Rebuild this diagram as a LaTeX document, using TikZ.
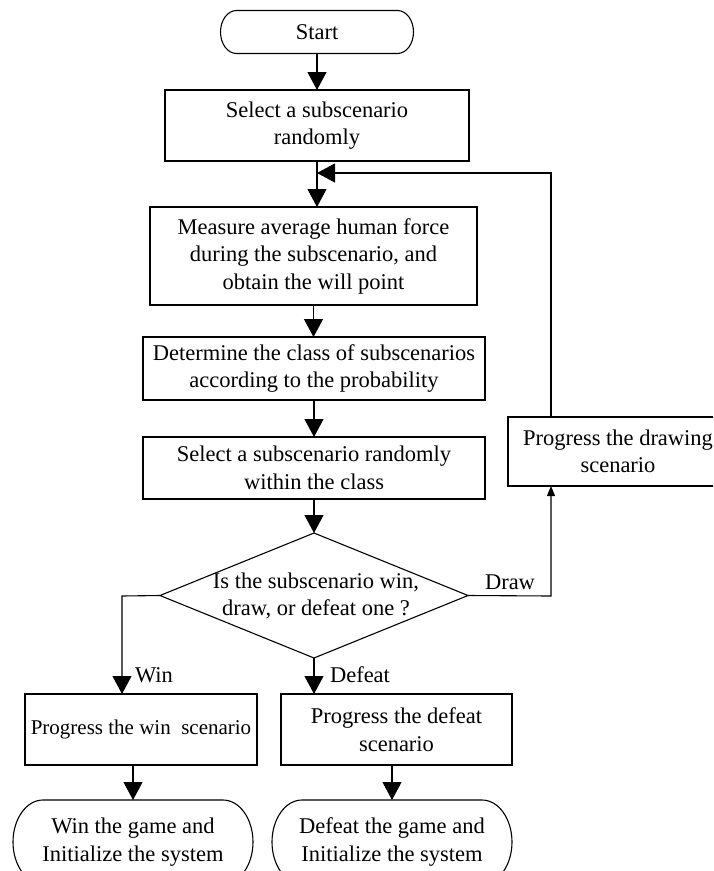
\documentclass[tikz,border=0pt]{standalone}
\usepackage{fontspec}
\setmainfont{Liberation Serif}
\usetikzlibrary{arrows.meta,shapes.geometric}
\newcommand\myterm[3]{\draw[line width=1.1pt] ([xshift=#2pt]#1.north west) -- ([xshift=-#2pt]#1.north east) arc[start angle=90,end angle=-90,x radius=#2pt,y radius=#3pt] -- ([xshift=#2pt]#1.south west) arc[start angle=270,end angle=90,x radius=#2pt,y radius=#3pt] -- cycle;}
\begin{document}
\begin{tikzpicture}[x=1pt,y=1pt,
  every node/.style={font=\fontsize{22.5}{27.5}\selectfont, align=center, inner sep=0pt},
  procbox/.style={draw, line width=1.1pt, rectangle, outer sep=0pt},
  termbox/.style={rectangle, outer sep=0pt},
  decbox/.style={draw, line width=1.1pt, diamond, inner sep=0pt, outer sep=0pt},
  flow/.style={line width=1.1pt},
  bigtip/.style={-{Triangle[width=19pt,length=18pt]}},
  smalltip/.style={-{Triangle[width=8pt,length=10pt]}}
]
\useasboundingbox (0,0) rectangle (713,-871);
\clip (0,0) rectangle (713,-871);

% terminals
\node[termbox, minimum width=193pt, minimum height=43pt] (start) at (317,-32) {Start};
\myterm{start}{16}{21.5}
\node[termbox, minimum width=240pt, minimum height=84pt] (wint) at (133,-842) {Win the game and\\Initialize the system};
\myterm{wint}{30}{42}
\node[termbox, minimum width=240pt, minimum height=84pt] (deft) at (392,-842) {Defeat the game and\\Initialize the system};
\myterm{deft}{30}{42}

% process boxes
\node[procbox, minimum width=304pt, minimum height=71pt] (box1) at (317,-125.5) {Select a subscenario\\randomly};
\node[procbox, minimum width=327pt, minimum height=98pt] (box2) at (313.5,-256) {Measure average human force\\during the subscenario, and\\obtain the will point};
\node[procbox, minimum width=342pt, minimum height=63pt] (box3) at (314,-368.5) {Determine the class of subscenarios\\according to the probability};
\node[procbox, minimum width=342pt, minimum height=62pt] (box4) at (314,-468) {Select a subscenario randomly\\within the class};
\node[procbox, minimum width=220pt, minimum height=69pt] (drawbox) at (618,-451.5) {Progress the drawing\\scenario};
\node[procbox, minimum width=232pt, minimum height=71pt, font=\fontsize{21}{27.5}\selectfont] (win) at (141,-729.5) {Progress the win~ scenario};
\node[procbox, minimum width=231pt, minimum height=71pt] (defeat) at (396.5,-729.5) {Progress the defeat\\scenario};

% decision
\node[decbox, minimum width=308pt, minimum height=125pt] (dec) at (314,-595.5) {};
\node (dectext) at (316,-596) {Is the subscenario win,\\draw, or defeat one ?};

% labels
\node (winlbl) at (154,-675) {Win};
\node (deflbl) at (360,-675) {Defeat};
\node (drawlbl) at (510,-582) {Draw};

% coordinates
\coordinate (fbtop) at (551,-173);
\coordinate (drcorner) at (551,-596);
\coordinate (wincorner) at (122,-596);

% connectors
\draw[flow,bigtip] (start.south) -- (box1.north);
\draw[flow,bigtip] (box1.south) -- (box1.south |- box2.north);
\draw[flow,bigtip] (box2.south) -- (box2.south |- box3.north);
\draw[flow,bigtip] (box3.south) -- (box4.north);
\draw[flow,bigtip] (box4.south) -- (dec.north);
\draw[flow,bigtip] (drawbox.north -| fbtop) -- (fbtop) -- (fbtop -| box1.south);
\draw[flow,smalltip] (dec.east) -- (drcorner) -- (drcorner |- drawbox.south);
\draw[flow,bigtip] (dec.west) -- (wincorner) -- (wincorner |- win.north);
\draw[flow,bigtip] (dec.south) -- (dec.south |- defeat.north);
\draw[flow,bigtip] (wint.north |- win.south) -- (wint.north);
\draw[flow,bigtip] (deft.north |- defeat.south) -- (deft.north);
\end{tikzpicture}
\end{document}
